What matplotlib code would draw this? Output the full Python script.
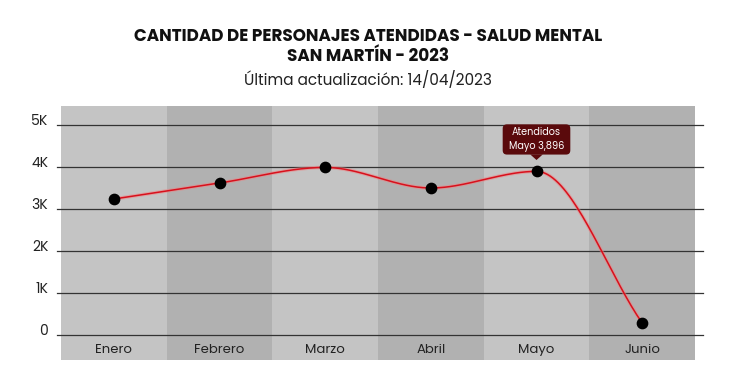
import matplotlib.pyplot as plt
import numpy as np
from matplotlib.patches import FancyBboxPatch, Polygon

meses = ['Enero', 'Febrero', 'Marzo', 'Abril', 'Mayo', 'Junio']
atendidos = [3238, 3619, 3990, 3500, 3896, 286]
yticks = [0, 1000, 2000, 3000, 4000, 5000]
ytick_labels = ['0', '1K', '2K', '3K', '4K', '5K']
destacado = 4  # Mayo

FONT = ['Poppins', 'Open Sans', 'DejaVu Sans']


def monotone_curve(x, y, n=40):
    # monotone cubic (Fritsch-Carlson) just for drawing the smooth line
    x = np.asarray(x, float)
    y = np.asarray(y, float)
    h = np.diff(x)
    d = np.diff(y) / h
    m = np.zeros_like(y)
    m[0], m[-1] = d[0], d[-1]
    for i in range(1, len(y) - 1):
        if d[i - 1] * d[i] <= 0:
            m[i] = 0
        else:
            m[i] = 2 / (1 / d[i - 1] + 1 / d[i])
    xs, ys = [], []
    for i in range(len(x) - 1):
        t = np.linspace(0, 1, n)
        h00 = 2 * t**3 - 3 * t**2 + 1
        h10 = t**3 - 2 * t**2 + t
        h01 = -2 * t**3 + 3 * t**2
        h11 = t**3 - t**2
        xs.append(x[i] + t * h[i])
        ys.append(h00 * y[i] + h10 * h[i] * m[i] + h01 * y[i + 1] + h11 * h[i] * m[i + 1])
    return np.concatenate(xs), np.concatenate(ys)


fig = plt.figure(figsize=(7.5, 3.78), dpi=100)
W, H = 750, 378
left, right, top, bottom = 61, 695, 106, 360
ax = fig.add_axes([left / W, 1 - bottom / H, (right - left) / W, (bottom - top) / H])

x = np.arange(len(meses))
ymin = -(360 - 335) / 42 * 1000
ymax = (335 - 106) / 42 * 1000
ax.set_xlim(-0.5, len(meses) - 0.5)
ax.set_ylim(ymin, ymax)

# alternating column bands
for i in x:
    ax.axvspan(i - 0.5, i + 0.5, color='#c4c4c4' if i % 2 == 0 else '#b1b1b1', zorder=0, lw=0)

# grid lines, slightly wider than the bands
for v in yticks:
    ax.plot([-0.54, 5.58], [v, v], color='#333333', lw=0.9, zorder=1, clip_on=False)

cx, cy = monotone_curve(x, atendidos)
ax.plot(cx, cy, color='#f08080', lw=2.6, alpha=0.5, zorder=2)
ax.plot(cx, cy, color='#d8101c', lw=1.1, zorder=3)
ax.scatter(x, atendidos, s=55, color='black', zorder=4)

for spine in ax.spines.values():
    spine.set_visible(False)
ax.set_xticks([])
ax.set_yticks([])

for i, m in enumerate(meses):
    ax.text(i, -350, m, ha='center', va='center', fontsize=9.5, color='#222222', family=FONT)
for v, lab in zip(yticks, ytick_labels):
    ax.text(-0.62, v + 90, lab, ha='right', va='center', fontsize=10, color='#222222',
            family=FONT, clip_on=False)

# tooltip on Mayo
tx, ty = x[destacado], atendidos[destacado]
box_w, box_h = 0.64, 720
box_y = ty + 400
tip = FancyBboxPatch((tx - box_w / 2, box_y), box_w, box_h,
                     boxstyle='round,pad=0,rounding_size=0.04', mutation_aspect=2500,
                     fc='#5a0a0c', ec='none', zorder=5)
ax.add_patch(tip)
ax.add_patch(Polygon([[tx - 0.06, box_y + 5], [tx + 0.06, box_y + 5], [tx, box_y - 130]],
                     closed=True, fc='#5a0a0c', ec='none', zorder=5))
ax.text(tx, box_y + box_h / 2, 'Atendidos\nMayo {:,}'.format(ty), ha='center', va='center',
        fontsize=7, color='white', family=FONT, zorder=6, linespacing=1.35)

fig.text(368 / W, 1 - 37 / H, 'CANTIDAD DE PERSONAJES ATENDIDAS - SALUD MENTAL', ha='center',
         va='center', fontsize=12.1, fontweight='bold', color='#111111', family=FONT)
fig.text(368 / W, 1 - 57 / H, 'SAN MARTÍN - 2023', ha='center', va='center',
         fontsize=12.1, fontweight='bold', color='#111111', family=FONT)
fig.text(368 / W, 1 - 80 / H, 'Última actualización: 14/04/2023', ha='center', va='center',
         fontsize=11, color='#222222', family=FONT)

fig.savefig('out.png', dpi=100, facecolor='white')
